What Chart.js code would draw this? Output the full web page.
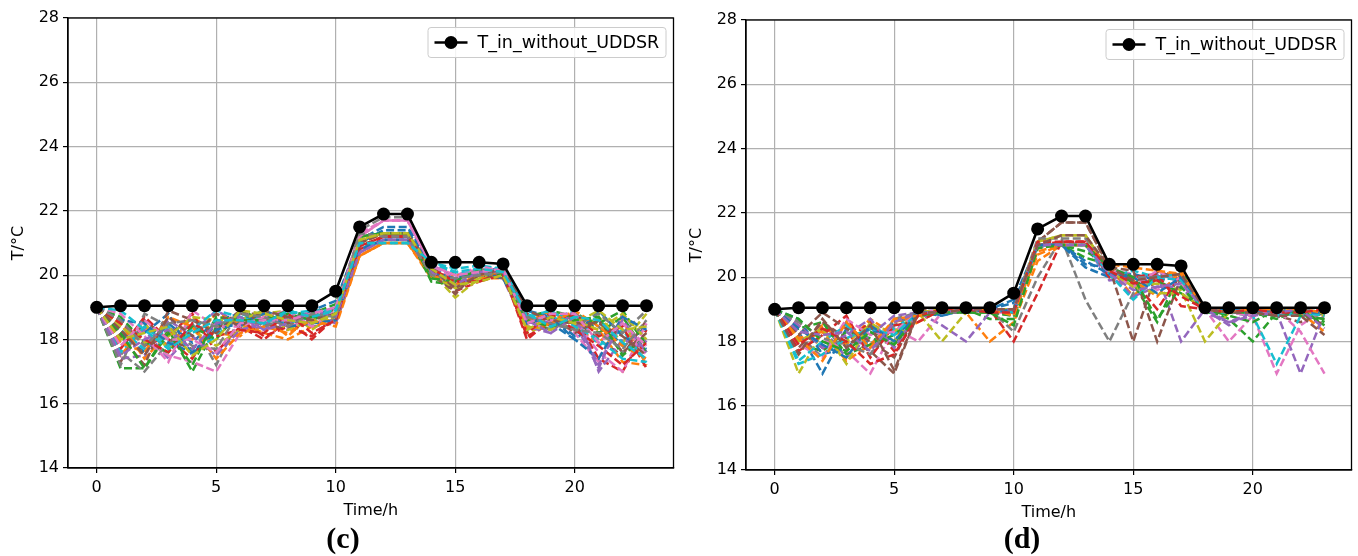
<!DOCTYPE html>
<html>
<head>
<meta charset="utf-8">
<script src="https://cdn.jsdelivr.net/npm/chart.js@4.4.1/dist/chart.umd.min.js"></script>
<style>
  body { margin: 0; background: #fff; }
  #page { position: relative; width: 1358px; height: 556px; overflow: hidden; }
  .panel { position: absolute; top: 0; }
  .tag { position: absolute; top: 521px; font: bold 30px "Liberation Serif", serif; color: #000; transform: translateX(-50%); }
</style>
</head>
<body>
<div id="page">
  <canvas id="chartC" class="panel" style="left:0" width="680" height="556"></canvas>
  <canvas id="chartD" class="panel" style="left:680px" width="678" height="556"></canvas>
  <div class="tag" style="left:343px">(c)</div>
  <div class="tag" style="left:1022px">(d)</div>
</div>
<script>
// hours of the day
const hours = [0, 1, 2, 3, 4, 5, 6, 7, 8, 9, 10, 11, 12, 13, 14, 15, 16, 17, 18, 19, 20, 21, 22, 23];
const xTicks = [0, 5, 10, 15, 20];
const yTicks = [14, 16, 18, 20, 22, 24, 26, 28];

// indoor temperature without UDDSR (black line, same in both panels)
const baseC = [19.0, 19.05, 19.05, 19.05, 19.05, 19.05, 19.05, 19.05, 19.05, 19.05, 19.5, 21.5, 21.9, 21.9, 20.4, 20.4, 20.4, 20.35, 19.05, 19.05, 19.05, 19.05, 19.05, 19.05];
const baseD = [19.0, 19.05, 19.05, 19.05, 19.05, 19.05, 19.05, 19.05, 19.05, 19.05, 19.5, 21.5, 21.9, 21.9, 20.4, 20.4, 20.4, 20.35, 19.05, 19.05, 19.05, 19.05, 19.05, 19.05];

// panel (c) runs
const runsC = [
  [19, 18.2, 17.6, 18.5, 17.9, 18.6, 18.8, 18.6, 18.9, 18.7, 19.0, 21.0, 21.4, 21.4, 20.2, 19.9, 20.1, 20.2, 18.7, 18.5, 18.0, 18.6, 17.8, 18.4],
  [19, 17.5, 18.4, 17.8, 18.7, 18.2, 18.1, 18.7, 18.1, 18.8, 18.5, 20.6, 21.0, 21.0, 20.0, 19.8, 20.2, 20.0, 18.5, 18.9, 18.4, 17.9, 18.6, 17.2],
  [19, 17.1, 17.1, 18.3, 17.0, 18.4, 18.6, 18.9, 18.5, 18.8, 19.1, 21.2, 21.3, 21.3, 19.9, 20.1, 19.8, 20.3, 18.6, 18.3, 18.9, 18.2, 18.7, 17.6],
  [19, 18.6, 17.8, 18.1, 18.8, 17.6, 18.4, 18.0, 18.6, 18.0, 18.7, 20.8, 21.2, 21.2, 20.3, 19.5, 19.8, 20.1, 18.0, 18.6, 18.7, 17.4, 17.0, 18.3],
  [19, 17.8, 18.3, 17.4, 18.2, 18.9, 18.5, 18.3, 18.8, 18.4, 18.5, 20.7, 21.1, 21.1, 20.1, 19.6, 20.0, 19.9, 18.3, 18.6, 18.5, 17.1, 18.8, 17.9],
  [19, 17.3, 18.6, 18.0, 17.7, 18.3, 18.9, 18.5, 18.3, 18.9, 18.9, 21.1, 21.3, 21.3, 20.2, 19.4, 20.2, 20.0, 18.8, 18.4, 18.6, 18.0, 17.5, 18.6],
  [19, 18.4, 18.0, 17.5, 17.3, 17.0, 18.2, 18.7, 18.4, 18.6, 19.0, 21.3, 21.7, 21.7, 20.3, 20.0, 20.2, 20.1, 18.4, 18.7, 18.2, 17.3, 18.5, 17.5],
  [19, 17.6, 17.0, 17.9, 18.5, 17.2, 18.7, 18.4, 18.7, 18.5, 18.6, 21.4, 21.8, 21.8, 20.0, 19.7, 19.9, 20.2, 18.6, 18.3, 18.8, 18.4, 17.6, 18.1],
  [19, 18.0, 18.5, 17.7, 18.3, 17.8, 18.3, 18.8, 18.9, 18.3, 18.8, 21.0, 21.3, 21.3, 20.1, 19.3, 19.9, 20.0, 18.2, 18.5, 18.3, 18.7, 17.9, 18.8],
  [19, 18.3, 17.7, 18.4, 17.6, 18.1, 18.8, 18.6, 18.5, 18.7, 18.8, 20.9, 21.0, 21.0, 20.4, 20.2, 20.3, 20.2, 18.9, 18.6, 18.9, 17.8, 18.3, 17.3],
  [19, 17.9, 18.2, 18.8, 17.5, 18.5, 18.4, 18.9, 18.6, 18.9, 19.2, 21.1, 21.5, 21.5, 20.3, 19.9, 20.0, 20.3, 18.9, 18.7, 18.1, 18.9, 18.1, 17.7],
  [19, 18.5, 17.4, 18.2, 18.0, 18.8, 18.5, 18.2, 18.0, 18.4, 18.6, 20.6, 21.0, 21.0, 19.9, 20.0, 19.9, 19.9, 18.6, 18.8, 18.5, 18.3, 17.3, 17.2],
  [19, 18.7, 17.9, 17.6, 18.4, 18.0, 18.9, 18.6, 18.8, 18.6, 18.9, 21.2, 21.3, 21.3, 19.8, 19.7, 20.1, 20.0, 18.7, 18.9, 18.7, 18.5, 18.9, 17.8],
  [19, 17.7, 18.7, 18.0, 17.4, 18.6, 18.6, 18.1, 18.4, 18.1, 18.7, 20.9, 21.2, 21.2, 20.1, 19.8, 19.8, 20.1, 18.1, 18.5, 18.8, 18.1, 18.4, 17.1],
  [19, 17.4, 17.5, 18.6, 18.1, 17.5, 18.3, 18.5, 18.6, 18.8, 18.5, 20.7, 21.1, 21.1, 20.2, 19.6, 20.1, 20.2, 18.4, 18.2, 18.9, 17.0, 18.0, 17.7],
  [19, 18.1, 17.2, 18.9, 18.6, 18.2, 18.8, 18.8, 18.5, 18.7, 18.8, 21.0, 21.3, 21.3, 20.0, 19.5, 20.0, 19.9, 18.5, 18.8, 18.2, 18.6, 17.6, 18.2],
  [19, 18.8, 18.1, 17.3, 18.9, 18.4, 18.4, 18.7, 18.9, 18.4, 18.9, 21.2, 21.7, 21.7, 20.3, 19.9, 20.3, 20.1, 18.3, 18.6, 18.6, 17.6, 17.0, 18.5],
  [19, 17.2, 18.8, 18.4, 17.8, 17.7, 18.9, 18.4, 18.7, 18.8, 18.6, 21.3, 21.2, 21.2, 20.2, 19.8, 20.2, 20.0, 18.8, 18.4, 18.4, 18.8, 18.2, 18.9],
  [19, 18.4, 17.9, 18.1, 18.7, 18.6, 18.6, 18.9, 18.3, 18.6, 18.7, 21.1, 21.3, 21.3, 20.0, 19.6, 19.9, 20.2, 18.4, 18.3, 18.6, 18.3, 18.8, 18.0],
  [19, 17.6, 18.4, 17.8, 18.3, 18.9, 18.7, 18.5, 18.8, 18.9, 18.9, 21.0, 21.0, 21.0, 20.3, 20.1, 20.0, 20.3, 18.7, 18.9, 18.4, 18.0, 17.4, 17.3],
  [19, 18.6, 18.5, 17.9, 17.6, 18.3, 18.5, 18.8, 18.4, 18.5, 18.6, 20.8, 21.1, 21.1, 20.1, 19.9, 20.1, 19.9, 18.5, 18.7, 18.0, 17.4, 18.7, 18.3],
  [19, 17.9, 17.6, 18.7, 18.4, 17.4, 18.2, 18.4, 18.2, 18.6, 18.4, 20.6, 21.0, 21.0, 20.0, 19.7, 20.0, 20.1, 18.3, 18.5, 18.9, 18.4, 17.8, 17.4],
  [19, 18.2, 17.1, 18.2, 17.2, 18.7, 18.6, 18.6, 18.9, 18.7, 18.8, 21.2, 21.3, 21.3, 19.9, 19.8, 20.2, 20.0, 18.6, 18.4, 18.6, 18.7, 17.5, 18.1],
  [19, 18.5, 18.0, 17.6, 18.5, 18.1, 18.3, 18.2, 18.8, 18.2, 18.6, 20.9, 21.2, 21.2, 20.2, 19.8, 19.8, 20.0, 18.2, 18.8, 18.3, 17.8, 17.2, 17.9],
  [19, 17.5, 18.0, 18.3, 17.7, 18.5, 18.7, 18.3, 18.5, 18.9, 18.7, 20.7, 21.1, 21.1, 20.1, 19.7, 20.1, 20.1, 18.6, 18.2, 18.7, 17.2, 18.6, 17.6],
  [19, 18.3, 17.5, 18.7, 18.1, 18.8, 18.4, 18.9, 18.7, 18.6, 18.8, 21.0, 21.3, 21.3, 20.2, 19.6, 20.0, 20.2, 18.9, 18.6, 18.5, 18.5, 18.1, 17.5],
  [19, 17.8, 18.6, 18.0, 18.0, 17.6, 18.5, 18.6, 18.6, 18.8, 19.0, 21.2, 21.7, 21.7, 20.3, 20.0, 20.1, 20.2, 18.5, 18.8, 18.8, 17.9, 18.5, 17.8],
  [19, 18.6, 17.8, 18.5, 18.6, 18.4, 18.8, 18.7, 18.4, 18.8, 18.7, 21.3, 21.2, 21.2, 20.0, 19.9, 20.0, 20.1, 18.7, 18.5, 18.3, 18.2, 17.7, 18.6],
  [19, 18.0, 18.2, 18.4, 17.5, 18.0, 18.9, 18.8, 18.6, 18.5, 18.8, 21.1, 21.3, 21.3, 20.2, 19.7, 19.8, 20.0, 18.3, 18.7, 18.5, 18.9, 18.3, 18.4],
  [19, 18.9, 18.3, 17.7, 18.2, 18.6, 18.6, 18.5, 18.9, 18.7, 18.9, 21.0, 21.0, 21.0, 20.4, 20.1, 20.2, 20.1, 18.8, 18.4, 18.7, 18.6, 17.9, 17.4]
];

// panel (d) runs
const runsD = [
  [19, 18.3, 17.0, 18.4, 17.9, 18.6, 18.9, 18.8, 19.0, 19.0, 19.3, 21.0, 21.0, 20.4, 20.3, 19.7, 20.1, 19.9, 19.0, 18.9, 18.9, 18.9, 18.8, 18.9],
  [19, 17.6, 18.5, 17.9, 18.7, 18.2, 18.6, 19.0, 18.9, 18.0, 18.6, 20.5, 21.0, 21.0, 20.3, 19.4, 20.2, 20.0, 19.0, 19.0, 18.9, 19.0, 18.9, 18.3],
  [19, 17.9, 17.7, 18.3, 18.1, 17.9, 18.8, 18.9, 19.0, 18.7, 18.7, 21.0, 21.0, 20.6, 20.4, 19.8, 18.6, 20.2, 19.0, 18.7, 18.0, 18.9, 19.0, 18.6],
  [19, 18.5, 17.8, 18.0, 18.6, 17.7, 18.9, 18.9, 18.9, 19.0, 18.0, 19.5, 21.1, 21.1, 20.2, 19.9, 19.0, 20.1, 18.9, 18.9, 18.8, 18.9, 18.9, 18.9],
  [19, 18.0, 18.4, 17.5, 18.2, 18.8, 18.9, 18.5, 18.0, 18.9, 18.8, 20.9, 21.1, 21.0, 19.9, 20.0, 20.1, 18.0, 19.0, 18.5, 19.0, 18.9, 17.0, 18.9],
  [19, 17.8, 18.6, 18.1, 17.7, 17.0, 18.9, 18.9, 19.0, 19.0, 19.0, 21.1, 21.7, 21.7, 20.3, 18.0, 20.2, 19.9, 18.9, 18.9, 18.9, 18.8, 18.6, 18.9],
  [19, 18.6, 18.1, 17.7, 17.0, 18.4, 18.0, 18.9, 19.0, 18.9, 18.9, 21.0, 21.0, 21.0, 20.2, 20.1, 19.6, 20.0, 19.0, 18.0, 18.8, 17.0, 18.5, 19.0],
  [19, 18.2, 17.5, 18.6, 17.6, 18.5, 18.9, 19.0, 18.9, 19.0, 18.3, 20.0, 21.2, 19.3, 18.0, 19.5, 20.0, 20.1, 19.0, 19.0, 18.9, 19.0, 18.8, 18.7],
  [19, 17.0, 18.3, 18.0, 18.5, 18.3, 18.9, 18.0, 18.9, 19.0, 18.9, 21.1, 21.3, 21.3, 20.2, 19.7, 19.8, 19.6, 18.0, 18.9, 19.0, 18.9, 19.0, 18.8],
  [19, 17.4, 18.0, 18.5, 17.8, 18.4, 18.9, 19.0, 19.0, 19.0, 19.0, 21.0, 21.0, 21.0, 20.0, 20.2, 20.0, 20.1, 19.0, 18.9, 18.8, 17.3, 18.8, 18.9],
  [19, 18.7, 17.6, 17.8, 18.4, 18.0, 19.0, 18.8, 19.0, 19.0, 19.2, 21.0, 21.0, 20.3, 20.0, 20.1, 19.9, 20.0, 19.0, 18.9, 19.0, 18.9, 19.0, 18.9],
  [19, 18.1, 18.3, 17.4, 17.9, 18.6, 18.8, 18.9, 19.0, 19.0, 18.9, 20.7, 21.0, 21.0, 20.3, 19.9, 19.4, 20.2, 18.9, 19.0, 18.9, 19.0, 18.9, 18.9],
  [19, 18.4, 18.6, 17.6, 17.9, 18.2, 18.9, 19.0, 18.9, 18.9, 18.8, 21.0, 21.0, 20.8, 20.4, 19.8, 19.9, 19.5, 19.0, 18.8, 18.6, 19.0, 18.8, 18.7],
  [19, 17.7, 18.2, 18.8, 17.5, 18.5, 18.6, 19.0, 19.0, 18.9, 19.0, 21.0, 21.1, 21.1, 20.0, 20.0, 20.1, 19.1, 19.0, 18.9, 18.9, 18.9, 19.0, 18.9],
  [19, 18.5, 17.8, 18.2, 18.7, 17.8, 18.9, 18.9, 18.9, 19.0, 18.9, 21.0, 21.0, 21.0, 20.1, 19.4, 19.7, 19.7, 18.9, 18.6, 18.9, 19.0, 18.9, 18.9],
  [19, 18.2, 18.9, 18.4, 18.0, 17.5, 19.0, 18.9, 19.0, 19.0, 18.9, 21.1, 21.7, 21.7, 20.3, 20.2, 18.0, 20.0, 18.9, 19.0, 18.9, 18.8, 18.9, 18.5],
  [19, 17.9, 17.5, 18.7, 18.2, 18.3, 18.9, 19.0, 19.0, 19.0, 19.0, 21.0, 21.0, 21.0, 20.2, 19.7, 20.2, 19.8, 19.0, 18.9, 18.8, 19.0, 18.3, 17.0],
  [19, 18.6, 18.1, 17.9, 17.6, 18.7, 18.9, 18.9, 18.9, 19.0, 19.0, 21.2, 21.2, 21.2, 20.3, 20.0, 20.0, 20.1, 19.0, 19.0, 19.0, 18.9, 19.0, 18.9],
  [19, 18.0, 18.4, 17.3, 18.6, 18.0, 18.9, 19.0, 19.0, 19.0, 19.0, 21.1, 21.3, 21.3, 20.2, 19.7, 19.5, 19.5, 19.0, 18.9, 19.0, 19.0, 18.9, 18.9],
  [19, 17.3, 17.6, 18.1, 18.4, 18.2, 18.9, 18.9, 19.0, 19.0, 18.9, 21.0, 21.0, 21.0, 20.1, 19.3, 20.0, 19.9, 18.9, 18.9, 18.9, 18.8, 18.9, 18.8],
  [19, 18.4, 17.9, 17.5, 18.5, 18.0, 18.9, 18.9, 19.0, 18.9, 19.0, 21.0, 21.0, 20.5, 20.1, 20.0, 19.5, 20.0, 19.0, 19.0, 18.9, 19.0, 18.9, 18.9],
  [19, 18.1, 17.4, 18.6, 17.8, 18.7, 18.8, 19.0, 19.0, 19.0, 18.8, 20.8, 21.0, 21.0, 20.4, 20.3, 20.2, 20.1, 19.0, 18.9, 19.0, 19.0, 19.0, 18.9],
  [19, 18.7, 18.0, 17.7, 18.3, 17.9, 18.8, 18.9, 18.9, 18.9, 18.5, 20.9, 21.0, 21.0, 20.3, 20.0, 18.7, 19.7, 18.9, 18.9, 18.9, 18.7, 19.0, 18.5],
  [19, 17.9, 18.4, 18.0, 17.3, 17.6, 18.8, 19.0, 19.0, 18.9, 18.9, 21.1, 21.1, 21.1, 20.2, 19.8, 19.9, 19.4, 19.0, 18.9, 19.0, 18.9, 18.9, 19.0],
  [19, 18.3, 18.2, 18.3, 17.7, 18.6, 18.9, 18.9, 19.0, 19.0, 19.0, 21.0, 21.0, 21.0, 20.1, 19.6, 19.7, 19.8, 19.0, 18.6, 18.8, 18.9, 19.0, 18.4],
  [19, 17.6, 18.7, 17.8, 18.5, 17.1, 18.9, 18.9, 19.0, 19.0, 19.0, 21.0, 21.3, 21.3, 20.3, 19.9, 20.0, 20.1, 19.0, 18.9, 18.9, 18.8, 18.8, 18.2]
];

const palette = ['#1f77b4', '#ff7f0e', '#2ca02c', '#d62728', '#9467bd', '#8c564b', '#e377c2', '#7f7f7f', '#bcbd22', '#17becf'];
const legendText = 'T_in_without_UDDSR';
const FONT = 'DejaVu Sans';

function toPoints(vals) {
  return vals.map((v, k) => ({ x: hours[k], y: v }));
}

function buildDatasets(base, runs) {
  const sets = [{
    label: legendText,
    data: toPoints(base),
    borderColor: '#000',
    backgroundColor: '#000',
    borderWidth: 2.6,
    pointRadius: 6.5,
    pointBackgroundColor: '#000',
    pointBorderWidth: 0,
    order: 0
  }];
  runs.forEach((r, i) => {
    sets.push({
      label: 'run ' + (i + 1),
      data: toPoints(r),
      borderColor: palette[i % 10],
      borderWidth: 2.5,
      borderDash: [8, 3.5],
      pointRadius: 0,
      order: runs.length - i
    });
  });
  return sets;
}

// black frame round the plot area
const frame = {
  id: 'frame',
  afterDatasetsDraw(chart) {
    const { ctx, chartArea: a } = chart;
    ctx.save();
    ctx.strokeStyle = '#000';
    ctx.lineWidth = 1.3;
    ctx.strokeRect(a.left, a.top, a.right - a.left, a.bottom - a.top);
    ctx.restore();
  }
};

// matplotlib style legend box in the upper right
const legendBox = {
  id: 'legendBox',
  afterDraw(chart) {
    const { ctx, chartArea: a } = chart;
    const w = 238, h = 30;
    const x = a.right - 246, y = a.top + 9;
    ctx.save();
    ctx.fillStyle = 'rgba(255,255,255,0.85)';
    ctx.strokeStyle = '#cccccc';
    ctx.lineWidth = 1;
    ctx.beginPath();
    ctx.roundRect(x + 0.5, y + 0.5, w, h, 3);
    ctx.fill();
    ctx.stroke();
    const cy = y + h / 2 + 0.5;
    ctx.strokeStyle = '#000';
    ctx.lineWidth = 2.6;
    ctx.beginPath();
    ctx.moveTo(x + 7, cy);
    ctx.lineTo(x + 40, cy);
    ctx.stroke();
    ctx.fillStyle = '#000';
    ctx.beginPath();
    ctx.arc(x + 23.5, cy, 6.5, 0, Math.PI * 2);
    ctx.fill();
    ctx.font = '17.5px "' + FONT + '"';
    ctx.textBaseline = 'middle';
    ctx.fillText(legendText, x + 50, cy + 1);
    ctx.restore();
  }
};

function makeChart(id, base, runs, box) {
  const tickFont = { family: FONT, size: 16 };
  return new Chart(document.getElementById(id), {
    type: 'line',
    data: { datasets: buildDatasets(base, runs) },
    options: {
      responsive: false,
      animation: false,
      layout: { padding: { left: 0, top: box.top, right: box.right, bottom: 0 } },
      plugins: { legend: { display: false }, tooltip: { enabled: false } },
      scales: {
        x: {
          type: 'linear',
          min: -1.2,
          max: 24.13,
          afterBuildTicks: s => { s.ticks = xTicks.map(v => ({ value: v })); },
          afterFit: s => { s.height = box.xh; },
          grid: { color: '#b0b0b0', lineWidth: 1.2, tickColor: '#000', tickLength: 5 },
          border: { color: '#000', width: 1.3 },
          ticks: { color: '#000', font: tickFont, padding: 5, maxRotation: 0 },
          title: { display: true, text: 'Time/h', color: '#000', font: tickFont, padding: { top: 0, bottom: box.xtPad } }
        },
        y: {
          min: 14,
          max: 28,
          afterBuildTicks: s => { s.ticks = yTicks.map(v => ({ value: v })); },
          afterFit: s => { s.width = box.yw; },
          grid: { color: '#b0b0b0', lineWidth: 1.2, tickColor: '#000', tickLength: 5 },
          border: { color: '#000', width: 1.3 },
          ticks: { color: '#000', font: tickFont, padding: 4 },
          title: { display: true, text: 'T/°C', color: '#000', font: tickFont, padding: { top: box.ytPad, bottom: 0 } }
        }
      }
    },
    plugins: [frame, legendBox]
  });
}

makeChart('chartC', baseC, runsC, { top: 18, right: 3, xh: 88, yw: 68, xtPad: 36, ytPad: 9 });
makeChart('chartD', baseD, runsD, { top: 20, right: 5, xh: 86, yw: 66, xtPad: 34, ytPad: 7 });
</script>
</body>
</html>
